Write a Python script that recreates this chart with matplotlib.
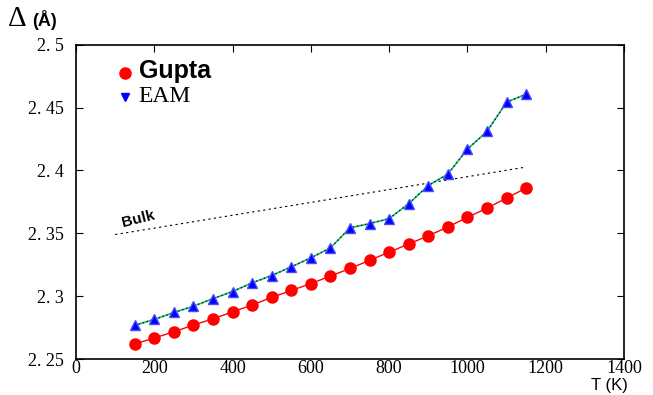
import matplotlib
matplotlib.use("Agg")
import matplotlib.pyplot as plt
from matplotlib.lines import Line2D

temps = [150, 200, 250, 300, 350, 400, 450, 500, 550, 600, 650,
         700, 750, 800, 850, 900, 950, 1000, 1050, 1100, 1150]
gupta = [2.262, 2.2667, 2.2717, 2.277, 2.282, 2.2875, 2.293, 2.299, 2.3045, 2.310, 2.316,
         2.322, 2.3285, 2.335, 2.3415, 2.348, 2.355, 2.3627, 2.370, 2.378, 2.386]
eam = [2.2768, 2.2815, 2.287, 2.292, 2.298, 2.3037, 2.3106, 2.3164, 2.3233, 2.3305, 2.3384,
       2.3543, 2.3577, 2.3617, 2.3736, 2.388, 2.3971, 2.417, 2.431, 2.4543, 2.4606]
bulk_t = [100, 1150]
bulk_d = [2.349, 2.4027]

x_ticks = [0, 200, 400, 600, 800, 1000, 1200, 1400]
y_ticks = [2.25, 2.3, 2.35, 2.4, 2.45, 2.5]
y_labels = ["2. 25", "2. 3", "2. 35", "2. 4", "2. 45", "2. 5"]

fig = plt.figure(figsize=(6.53, 3.95), dpi=100)
ax = fig.add_axes([0.1164, 0.0911, 0.8392, 0.7957])

ax.plot(bulk_t, bulk_d, color="black", linestyle=(0, (2, 3)), linewidth=0.8)
ax.plot(temps, gupta, color="red", linewidth=1, marker="o", markersize=8,
        markeredgecolor="red", markerfacecolor="red")
ax.plot(temps, eam, color="#22cc22", linewidth=1.2, zorder=3)
ax.plot(temps, eam, color="blue", linewidth=1, linestyle=(0, (1, 2)),
        marker="^", markersize=7, markerfacecolor="blue",
        markeredgecolor="#4a4aff", zorder=4)

ax.text(112, 2.3525, "Bulk", rotation=14, fontsize=11, fontweight="bold",
        family="Liberation Sans", ha="left", va="bottom")

ax.set_xlim(0, 1400)
ax.set_ylim(2.25, 2.5)
ax.set_xticks(x_ticks)
ax.set_yticks(y_ticks)
ax.set_yticklabels(y_labels)
for lab in ax.get_xticklabels() + ax.get_yticklabels():
    lab.set_family("Liberation Serif")
    lab.set_fontsize(13)
ax.tick_params(axis="both", direction="in", top=True, right=True, length=5, width=0.8)
ax.tick_params(axis="x", bottom=False, pad=1)
ax.tick_params(axis="y", pad=9)
for s in ax.spines.values():
    s.set_linewidth(1.2)

handles = [Line2D([], [], color="red", marker="o", linestyle="none", markersize=8),
           Line2D([], [], color="blue", marker="v", linestyle="none", markersize=6)]
leg = ax.legend(handles, ["Gupta", "EAM"], loc="upper left", frameon=False,
                bbox_to_anchor=(0.051, 0.995), handletextpad=0.4, labelspacing=0.2,
                handlelength=1.2)
t1, t2 = leg.get_texts()
t1.set_family("Liberation Sans")
t1.set_fontweight("bold")
t1.set_fontsize(18)
t2.set_family("Liberation Serif")
t2.set_fontsize(17)

fig.text(0.012, 0.935, "Δ", fontsize=21, family="Liberation Serif", va="baseline")
fig.text(0.049, 0.935, "(Å)", fontsize=13, fontweight="bold",
         family="Liberation Sans", va="baseline")
fig.text(0.905, 0.012, "T (K)", fontsize=12, family="Liberation Sans", va="baseline")

fig.savefig("out.png", dpi=100)
